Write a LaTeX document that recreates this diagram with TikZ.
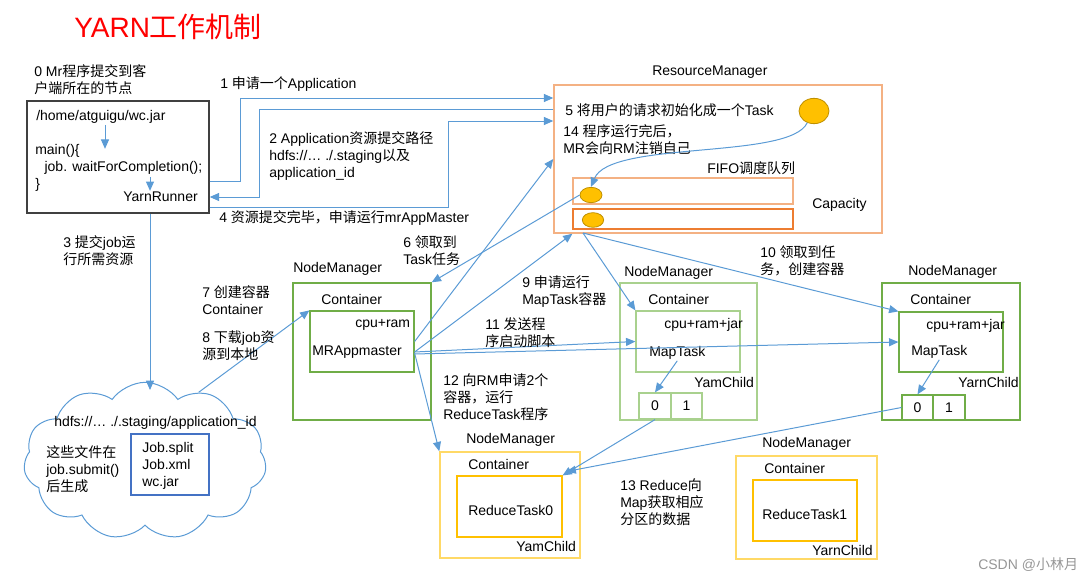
\documentclass[tikz,border=0pt]{standalone}
\usepackage{fontspec}
\setmainfont{Liberation Sans}
\newfontfamily\cjkfont{Noto Sans CJK SC}
\newfontfamily\latfont{Liberation Sans}
% switch to the CJK font for Han characters
\XeTeXinterchartokenstate=1
\newXeTeXintercharclass\cjkclass
\count255="4E00
\loop
  \XeTeXcharclass\count255=\cjkclass
  \advance\count255 by 1
\ifnum\count255<"A000 \repeat
\XeTeXcharclass"FF0C=\cjkclass
\XeTeXinterchartoks 0 \cjkclass = {\cjkfont}
\XeTeXinterchartoks 4095 \cjkclass = {\cjkfont}
\XeTeXinterchartoks \cjkclass 0 = {\latfont}
\XeTeXinterchartoks \cjkclass 4095 = {\latfont}
\usetikzlibrary{arrows.meta,fit,shapes.geometric,shapes.symbols}

\definecolor{arrblue}{RGB}{91,155,213}
\definecolor{titlered}{RGB}{255,0,0}
\definecolor{clientgray}{RGB}{64,64,64}
\definecolor{nmgreen}{RGB}{112,173,71}
\definecolor{nmlight}{RGB}{169,209,142}
\definecolor{rmorange}{RGB}{244,177,131}
\definecolor{qorange}{RGB}{237,125,49}
\definecolor{taskfill}{RGB}{255,192,0}
\definecolor{taskedge}{RGB}{191,144,0}
\definecolor{rdlight}{RGB}{255,217,102}
\definecolor{filesblue}{RGB}{68,114,196}
\definecolor{markgray}{RGB}{150,150,150}

\tikzset{
  arr/.style={draw=arrblue, line width=0.75pt, -{Triangle[length=7pt,width=6pt]}},
  txt/.style={anchor=west, inner sep=0.75pt, align=left},
  rbox/.style={draw, inner sep=0pt, line width=1.1pt},
  task/.style={ellipse, draw=taskedge, fill=taskfill, line width=0.6pt, inner sep=0pt},
}

\begin{document}
\begin{tikzpicture}[x=0.75pt,y=0.75pt,yscale=-1,xscale=1, font=\fontsize{10.5}{12.75}\selectfont]
\useasboundingbox (0,0) rectangle (1089,582);

% Text Node
\node [txt, text=titlered, font=\fontsize{21}{25}\selectfont] (title) at (73,27) {YARN工作机制};

%Shape: Rectangle [client]
\node [rbox, draw=clientgray, fit={(27,101) (209,213)}] (client) {};
% Text Node
\node [txt] (lbl0) at (33,80) {0 Mr程序提交到客\\户端所在的节点};
\node [txt] (jar) at (35,117) {/home/atguigu/wc.jar};
\node [txt] (code) at (34,168) {main()\{\\\hspace*{7pt}job. waitForCompletion();\\\}};
\node [txt] (yarnrunner) at (122,197) {YarnRunner};
\draw [arr] (jar.south -| 105,0) -- ++(0,24);
\draw [arr] (150,177) -- (yarnrunner.north -| 150,0);

%Shape: Rectangle [ResourceManager]
\node [rbox, draw=rmorange, fit={(554,85) (882,233)}] (rm) {};
\node [rbox, draw=rmorange, line width=0.9pt, fit={(573,178) (793,204)}] (q1) {};
\node [rbox, draw=qorange, line width=0.9pt, fit={(573,209) (793,229)}] (q2) {};
\node [task, minimum width=22.5pt, minimum height=19pt] (task) at (814,111) {};
\node [task, minimum width=16.5pt, minimum height=11.5pt] (t1) at (591,195) {};
\node [task, minimum width=16pt, minimum height=11pt] (t2) at (593,220) {};
\coordinate (rmport) at (583,233);
% Text Node
\node [txt] (rmlbl) at (651,72) {ResourceManager};
\node [txt] (lbl5) at (564,110) {5 将用户的请求初始化成一个Task};
\node [txt] (lbl14) at (562,139.5) {14 程序运行完后，\\MR会向RM注销自己};
\node [txt] (fifo) at (706,168) {FIFO调度队列};
\node [txt] (cap) at (811,205) {Capacity};
\draw [arr] (task.240) .. controls (790,160) and (610,140) .. (t1.north);

%Client <-> ResourceManager
\draw [arr] (client.east |- 0,181) -- (240,181) -- (240,98) -- (rm.west |- 0,98);
\draw [arr] (rm.west |- 0,109) -- (259,109) -- (259,197) -- (client.east |- 0,197);
\draw [arr] (client.east |- 0,207) -- (448,207) -- (448,121) -- (rm.west |- 0,121);
% Text Node
\node [txt] (lbl1) at (219,84) {1 申请一个Application};
\node [txt] (lbl2) at (268,156) {2 Application资源提交路径\\hdfs://… ./.staging以及\\application\_id};
\node [txt] (lbl4) at (218,218) {4 资源提交完毕，申请运行mrAppMaster};
\node [txt] (lbl3) at (62,251) {3 提交job运\\行所需资源};

%Shape: Cloud [hdfs]
\node [cloud, draw=arrblue, line width=0.75pt, cloud puffs=11, cloud puff arc=110, cloud ignores aspect, minimum width=182pt, minimum height=118pt, inner sep=0pt] (hdfs) at (145,461) {};
\coordinate (hdfstop) at (150,390);
\node [rbox, draw=filesblue, line width=0.9pt, fit={(131,434) (209,495)}] (files) {};
% Text Node
\node [txt] (staging) at (53,423) {hdfs://… ./.staging/application\_id};
\node [txt] (lblgen) at (45,469) {这些文件在\\job.submit()\\后生成};
\node [txt] (jobfiles) at (141,466) {Job.split\\Job.xml\\wc.jar};
\draw [arr] (client.south -| hdfstop) -- (hdfstop);

%NodeManager [MRAppmaster]
\node [rbox, draw=nmgreen, fit={(293,283) (431,420)}] (nm1) {};
\node [rbox, draw=nmgreen, line width=0.9pt, fit={(310,311) (414,372)}] (mra) {};
\node [txt] (nm1lbl) at (292,269) {NodeManager};
\node [txt] at (320,299) {Container};
\node [txt] at (354,325) {cpu+ram};
\node [txt] at (311,352) {MRAppmaster};

%NodeManager [MapTask 1]
\node [rbox, draw=nmlight, fit={(620,283) (757,420)}] (nm2) {};
\node [rbox, draw=nmlight, line width=0.9pt, fit={(636,311) (740,372)}] (mt2) {};
\node [rbox, draw=nmlight, line width=0.9pt, fit={(639,393) (671,419)}] (p20) {};
\node [rbox, draw=nmlight, line width=0.9pt, fit={(671,393) (702,419)}] (p21) {};
\node at (p20) {0};
\node at (p21) {1};
\node [txt] (nm2lbl) at (623,273) {NodeManager};
\node [txt] at (647,299) {Container};
\node [txt] at (663,325) {cpu+ram+jar};
\node [txt] (map2) at (648,353) {MapTask};
\node [txt] at (693,382) {YamChild};

%NodeManager [MapTask 2]
\node [rbox, draw=nmgreen, fit={(882,283) (1020,420)}] (nm3) {};
\node [rbox, draw=nmgreen, line width=0.9pt, fit={(899,312) (1003,372)}] (mt3) {};
\node [rbox, draw=nmgreen, line width=0.9pt, fit={(902,395) (933,420)}] (p30) {};
\node [rbox, draw=nmgreen, line width=0.9pt, fit={(933,395) (965,420)}] (p31) {};
\node at (p30) {0};
\node at (p31) {1};
\node [txt] (nm3lbl) at (907,272) {NodeManager};
\node [txt] at (909,299) {Container};
\node [txt] at (925,326) {cpu+ram+jar};
\node [txt] (map3) at (910,352) {MapTask};
\node [txt] at (957,382) {YarnChild};

%NodeManager [ReduceTask0]
\node [rbox, draw=rdlight, fit={(440,452) (580,558)}] (nmr0) {};
\node [rbox, draw=taskfill, line width=0.8pt, fit={(457,476) (562,537)}] (rt0) {};
\node [txt] (nmr0lbl) at (465,440) {NodeManager};
\node [txt] at (467,464) {Container};
\node [txt] at (467,510) {ReduceTask0};
\node [txt] at (515,546) {YamChild};

%NodeManager [ReduceTask1]
\node [rbox, draw=rdlight, fit={(736,456) (877,559)}] (nmr1) {};
\node [rbox, draw=taskfill, line width=0.8pt, fit={(753,480) (857,541)}] (rt1) {};
\node [txt] (nmr1lbl) at (761,444) {NodeManager};
\node [txt] at (763,468) {Container};
\node [txt] at (761,514) {ReduceTask1};
\node [txt] at (811,550) {YarnChild};

%Straight Lines
\draw [arr] (hdfs.52) -- (mra.north west);
\draw [arr] (t1.west) -- (nm1.north east);
\draw [arr] (mra.east) -- (rm.west);
\draw [arr] (mra.east |- 0,352) -- (q2.west |- rm.south);
\draw [arr] (rmport) -- (mt2.north west);
\draw [arr] (rmport) -- (mt3.north west);
\draw [arr] (mra.east |- 0,352) -- (mt2.west);
\draw [arr] (mra.east |- 0,354) -- (mt3.west);
\draw [arr] (mra.east |- 0,353) -- (nmr0.north west);
\draw [arr] (map2.south) -- (p20.north);
\draw [arr] (map3.south) -- (p30.north);
\draw [arr] (p20.south) -- (rt0.north east);
\draw [arr] (p30.west) -- ([xshift=3pt,yshift=-3pt]rt0.north east);

% Text Node
\node [txt] (lbl6) at (402,250.5) {6 领取到\\Task任务};
\node [txt] (lbl7) at (201,300.5) {7 创建容器\\Container};
\node [txt] (lbl8) at (201,345.5) {8 下载job资\\源到本地};
\node [txt] (lbl9) at (521,291.5) {9 申请运行\\MapTask容器};
\node [txt] (lbl10) at (759,260.5) {10 领取到任\\务，创建容器};
\node [txt] (lbl11) at (484,332.5) {11 发送程\\序启动脚本};
\node [txt] (lbl12) at (442,397.5) {12 向RM申请2个\\容器，运行\\ReduceTask程序};
\node [txt] (lbl13) at (619,502) {13 Reduce向\\Map获取相应\\分区的数据};
\node [txt, text=markgray] (mark) at (977,565) {CSDN @小林月};

\end{tikzpicture}
\end{document}
